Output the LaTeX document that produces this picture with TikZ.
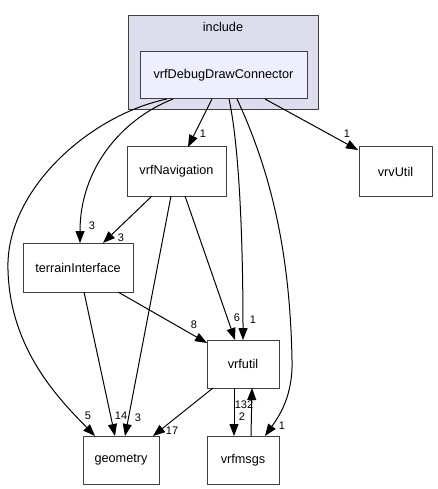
\documentclass[tikz,border=0pt]{standalone}
\usepackage{fontspec}
\setmainfont{Liberation Sans}
\usetikzlibrary{arrows.meta}
\definecolor{clusterfill}{HTML}{DDDDEE}
\definecolor{mainfill}{HTML}{EEEEFF}
\definecolor{bordc}{HTML}{404040}
\tikzset{
  box/.style={draw=bordc, line width=1pt, fill=white, inner sep=0pt, outer sep=0pt,
    font=\fontsize{12.7}{14}\selectfont},
  clusterbox/.style={draw=bordc, line width=1pt, fill=clusterfill, inner sep=0pt, outer sep=0pt},
  elabel/.style={inner sep=0pt, font=\fontsize{11}{12}\selectfont},
  edge/.style={draw=black, line width=1pt, -{Triangle[length=12pt,width=9pt]}}
}
\begin{document}
\begin{tikzpicture}[x=1pt,y=-1pt]
\useasboundingbox (0,0) rectangle (437,489);
% cluster
\node[clusterbox, minimum width=190pt, minimum height=94pt] (inc) at (223,63) {};
\node[inner sep=0pt, font=\fontsize{12.7}{14}\selectfont] (inclabel) at (223,27) {include};
% nodes
\node[box, fill=mainfill, minimum width=167pt, minimum height=47pt] (ddc) at (223.5,75.5) {vrfDebugDrawConnector};
\node[box, minimum width=99pt, minimum height=49pt] (nav) at (176.5,171.5) {vrfNavigation};
\node[box, minimum width=73pt, minimum height=49pt] (vrv) at (395.5,171.5) {vrvUtil};
\node[box, minimum width=110pt, minimum height=49pt] (ter) at (78,267.5) {terrainInterface};
\node[box, minimum width=72pt, minimum height=48pt] (util) at (243,364) {vrfutil};
\node[box, minimum width=76pt, minimum height=48pt] (geo) at (121,460) {geometry};
\node[box, minimum width=72pt, minimum height=48pt] (msgs) at (243,460) {vrfmsgs};
% edges from ddc
\draw[edge] ([xshift=-56.5pt]ddc.south) .. controls (90,115) and (5,190) .. (8,270)
   .. controls (10,350) and (60,400) .. ([xshift=-26pt]geo.north);
\draw[edge] ([xshift=-50.5pt]ddc.south) .. controls (120,120) and (80,170) .. ([xshift=2pt]ter.north);
\draw[edge] ([xshift=-11.5pt]ddc.south) -- ([xshift=11.5pt]nav.north);
\draw[edge] ([xshift=5.5pt]ddc.south) .. controls (240,150) and (243,250) .. (util.north);
\draw[edge] ([xshift=13.5pt]ddc.south) .. controls (270,170) and (290,250) .. (292,360)
   .. controls (293,395) and (280,415) .. ([xshift=22pt]msgs.north);
\draw[edge] ([xshift=41.5pt]ddc.south) -- ([xshift=-1pt,yshift=-3pt]vrv.north west);
% edges from nav
\draw[edge] ([xshift=-24.5pt]nav.south) -- ([xshift=25pt]ter.north);
\draw[edge] ([xshift=-5.5pt]nav.south) -- ([xshift=4pt]geo.north);
\draw[edge] ([xshift=8.5pt]nav.south) -- ([xshift=-8pt]util.north);
% edges from terrain
\draw[edge] ([xshift=6pt]ter.south) -- ([xshift=-6pt]geo.north);
\draw[edge] ([xshift=40pt]ter.south) -- ([yshift=-3pt]util.north west);
% edges from util / msgs
\draw[edge] ([xshift=-30pt]util.south) -- ([xshift=32pt]geo.north);
\draw[edge] ([xshift=-9pt]util.south) -- ([xshift=-9pt]msgs.north);
\draw[edge] ([xshift=8pt]msgs.north) -- ([xshift=9pt]util.south);
% labels
\node[elabel] (l1) at (88,416) {5};
\node[elabel] (l2) at (121,416) {14};
\node[elabel] (l3) at (138,418) {3};
\node[elabel] (l4) at (172,431) {17};
\node[elabel] (l5) at (194,325) {8};
\node[elabel] (l6) at (237,318) {6};
\node[elabel] (l7) at (253,320) {1};
\node[elabel] (l8) at (244,405) {132};
\node[elabel] (l9) at (242,417) {2};
\node[elabel] (l10) at (282,426) {1};
\node[elabel] (l11) at (92,226) {3};
\node[elabel] (l12) at (121,238) {3};
\node[elabel] (l13) at (203,134) {1};
\node[elabel] (l14) at (347,134) {1};
\end{tikzpicture}
\end{document}
